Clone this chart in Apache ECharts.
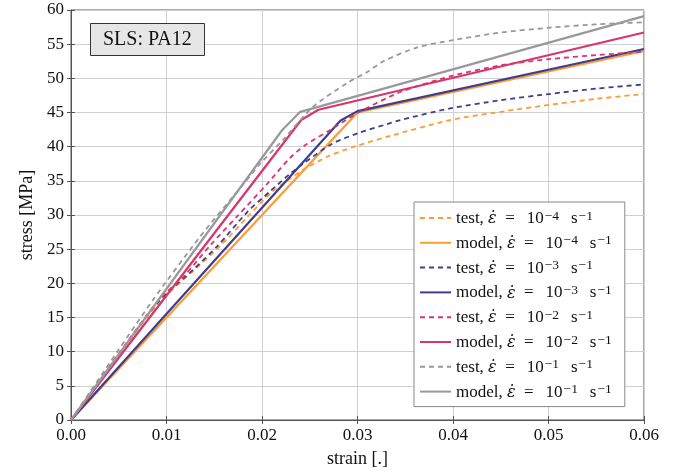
<!DOCTYPE html>
<html>
<head>
<meta charset="utf-8">
<script src="https://cdn.jsdelivr.net/npm/echarts@6/dist/echarts.min.js"></script>
<style>html,body{margin:0;padding:0;background:#fff}#c{width:687px;height:475px}</style>
</head>
<body>
<div id="c"></div>
<script>
// ---- data (strain, stress [MPa]) ----
var xTicks = [0, 0.01, 0.02, 0.03, 0.04, 0.05, 0.06];
var yTicks = [0, 5, 10, 15, 20, 25, 30, 35, 40, 45, 50, 55, 60];

var testM4 = [[0,0],[0.005,9.5],[0.0092,17.2],[0.0128,21.8],[0.0155,25.3],[0.0186,29.9],[0.0210,33.3],[0.0242,36.5],[0.0271,38.7],[0.0301,40.2],[0.0335,41.6],[0.0397,43.9],[0.045,45.1],[0.050,46.1],[0.055,47.0],[0.060,47.7]];
var modelM4 = [[0,0],[0.0300,45.0],[0.060,54.0]];
var testM3 = [[0,0],[0.005,9.6],[0.0092,17.4],[0.0128,22.0],[0.0153,25.4],[0.0185,30.5],[0.0208,33.4],[0.0229,36.0],[0.0242,37.4],[0.0273,40.4],[0.0301,42.0],[0.0331,43.3],[0.0345,43.9],[0.0397,45.6],[0.045,46.8],[0.050,47.7],[0.055,48.5],[0.060,49.1]];
var modelM3 = [[0,0],[0.0282,43.8],[0.0300,45.2],[0.060,54.3]];
var testM2 = [[0,0],[0.005,9.7],[0.0092,17.6],[0.0118,21.0],[0.0146,25.6],[0.0174,29.8],[0.0205,34.5],[0.0229,38.3],[0.0245,40.2],[0.0271,42.4],[0.0301,45.0],[0.0345,48.0],[0.040,50.4],[0.045,51.9],[0.050,52.8],[0.055,53.4],[0.060,53.9]];
var modelM2 = [[0,0],[0.0241,43.9],[0.0259,45.4],[0.060,56.7]];
var testM1 = [[0,0],[0.005,10.3],[0.0086,17.6],[0.0135,26.8],[0.0184,35.1],[0.0198,37.5],[0.0222,41.0],[0.0254,45.9],[0.0289,49.3],[0.0311,51.0],[0.0327,52.5],[0.0362,54.5],[0.040,55.6],[0.045,56.7],[0.050,57.4],[0.055,57.9],[0.060,58.2]];
var modelM1 = [[0,0],[0.0221,42.4],[0.0240,45.1],[0.060,59.1]];

var rates = ['−4','−4','−3','−3','−2','−2','−1','−1'];
var kinds = ['test','model','test','model','test','model','test','model'];
var seriesData = [testM4, modelM4, testM3, modelM3, testM2, modelM2, testM1, modelM1];
var colors = ['#ff9b33','#ff9b33','#3e3d8e','#3e3d8e','#d7356f','#d7356f','#999999','#999999'];

var FONT = '"Liberation Serif", "DejaVu Serif", serif';
var names = kinds.map(function(k, i){ return k + ', rate 10^' + rates[i] + ' (' + i + ')'; });

var series = seriesData.map(function(d, i){
  var dashed = kinds[i] === 'test';
  return {
    name: names[i],
    type: 'line',
    data: d,
    symbol: 'none',
    showSymbol: false,
    smooth: dashed ? 0.25 : false,
    lineStyle: {color: colors[i], width: dashed ? 1.8 : 2.2, type: dashed ? [5,4] : 'solid'},
    itemStyle: {color: colors[i]},
    z: 2 + i,
    animation: false
  };
});

var chart = echarts.init(document.getElementById('c'), null, {renderer: 'canvas'});
chart.setOption({
  animation: false,
  backgroundColor: '#fff',
  grid: {left: 71, right: 43, top: 10, bottom: 55, show: true, borderColor: '#555', borderWidth: 1, backgroundColor: 'transparent'},
  title: {
    text: 'SLS: PA12', left: 90, top: 23,
    backgroundColor: '#e6e6e6', borderColor: '#333', borderWidth: 1,
    padding: [6, 13, 5, 13],
    textStyle: {fontFamily: FONT, fontSize: 20, fontWeight: 'normal', color: '#111', lineHeight: 22}
  },
  legend: {
    orient: 'vertical', left: 414, top: 202,
    backgroundColor: '#fff', borderColor: '#888', borderWidth: 1,
    padding: [7, 13, 6, 5],
    itemWidth: 31, itemHeight: 14, itemGap: 6.8,
    itemStyle: {opacity: 0},
    data: names,
    formatter: function(n){
      var i = names.indexOf(n);
      return '{r|' + kinds[i] + ', }{i|ε̇}{r|\u2002=\u2002\u2009' + '10}{s|' + rates[i] + '}{r|\u2002\u2009s}{s|−1}';
    },
    textStyle: {
      fontFamily: FONT, fontSize: 17, color: '#111',
      rich: {
        r: {fontFamily: FONT, fontSize: 17, lineHeight: 18, verticalAlign: 'bottom', color: '#111'},
        i: {fontFamily: '"DejaVu Serif", serif', fontSize: 16, lineHeight: 18, fontStyle: 'italic', verticalAlign: 'bottom', color: '#111'},
        s: {fontFamily: FONT, fontSize: 13.5, lineHeight: 12, verticalAlign: 'top', color: '#111', padding: [0, 0, 0, 1]}
      }
    }
  },
  xAxis: [{
    type: 'value', min: 0, max: 0.06, interval: 0.01,
    name: 'strain [.]', nameLocation: 'middle', nameGap: 30,
    nameTextStyle: {fontFamily: FONT, fontSize: 18, color: '#111'},
    axisLine: {show: true, lineStyle: {color: '#555', width: 1}},
    axisTick: {show: true, inside: true, length: 4, lineStyle: {color: '#555'}},
    axisLabel: {fontFamily: FONT, fontSize: 17, color: '#111', margin: 7,
      formatter: function(v){ return v.toFixed(2); }},
    splitLine: {show: true, lineStyle: {color: '#d0d0d0', width: 1}}
  }, {
    type: 'value', min: 0, max: 0.06, interval: 0.01, position: 'top',
    axisLine: {show: false}, axisLabel: {show: false}, splitLine: {show: false},
    axisTick: {show: true, inside: true, length: 4, lineStyle: {color: '#555'}}
  }],
  yAxis: [{
    type: 'value', min: 0, max: 60, interval: 5,
    name: 'stress [MPa]', nameLocation: 'middle', nameGap: 34,
    nameTextStyle: {fontFamily: FONT, fontSize: 18, color: '#111'},
    axisLine: {show: true, lineStyle: {color: '#555', width: 1}},
    axisTick: {show: true, inside: true, length: 4, lineStyle: {color: '#555'}},
    axisLabel: {fontFamily: FONT, fontSize: 17, color: '#111', margin: 7},
    splitLine: {show: true, lineStyle: {color: '#d0d0d0', width: 1}}
  }, {
    type: 'value', min: 0, max: 60, interval: 5, position: 'right',
    axisLine: {show: false}, axisLabel: {show: false}, splitLine: {show: false},
    axisTick: {show: true, inside: true, length: 4, lineStyle: {color: '#555'}}
  }],
  series: series
});
</script>
</body>
</html>
